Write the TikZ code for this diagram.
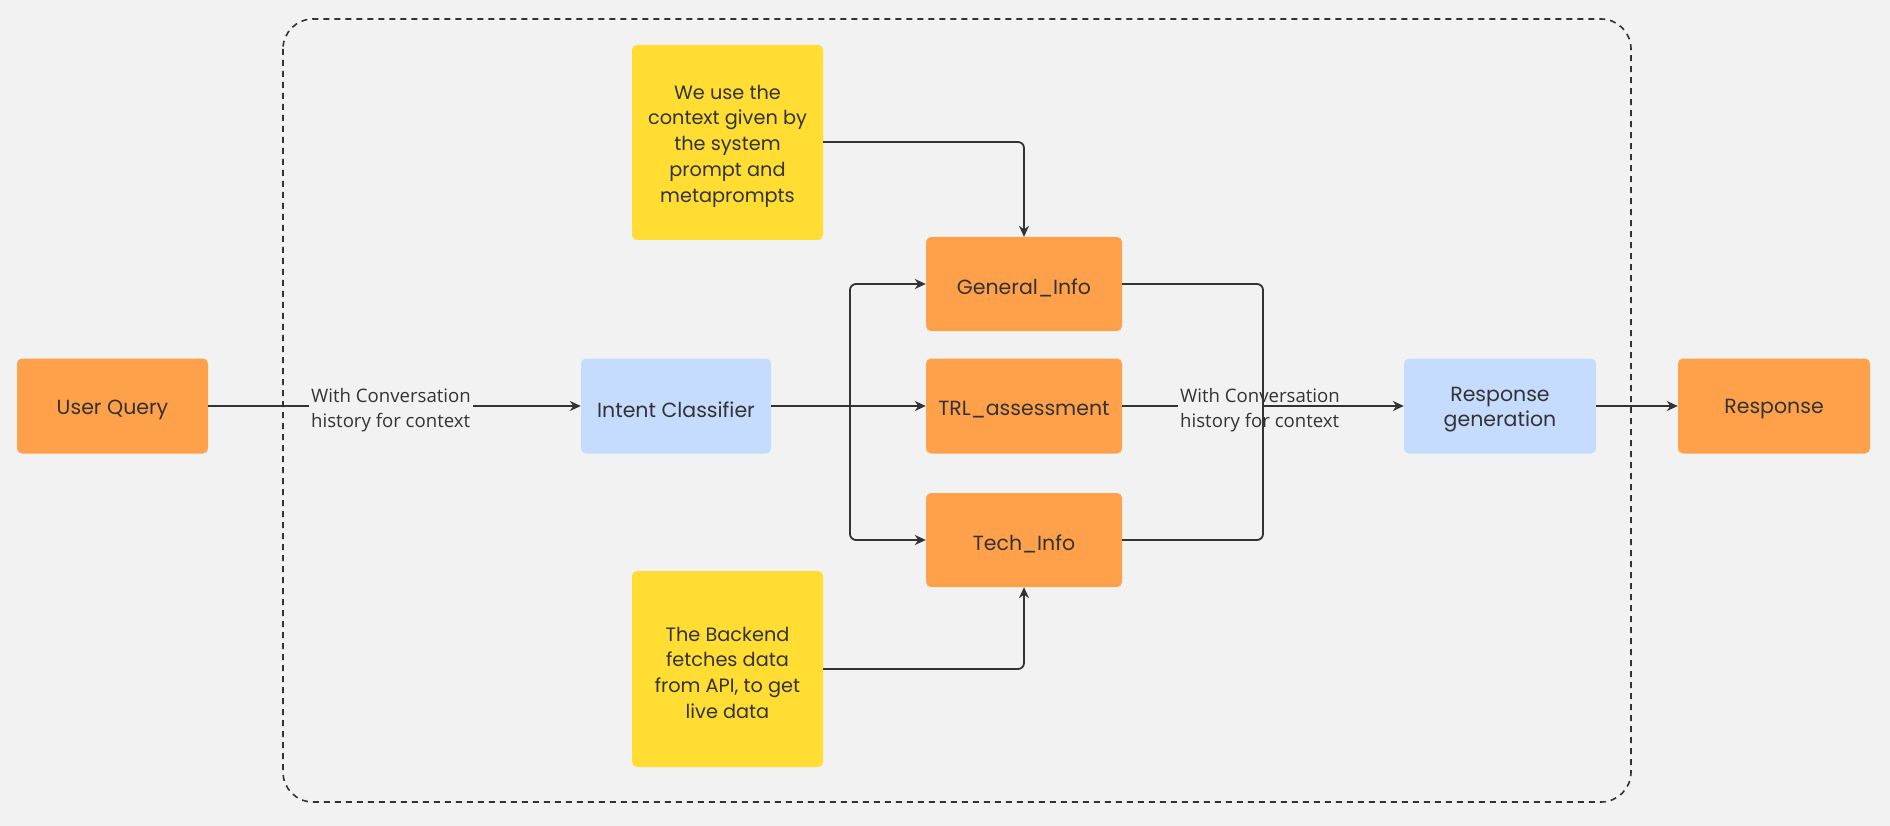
\documentclass[tikz,border=0pt]{standalone}
\usepackage{fontspec}
\usetikzlibrary{arrows.meta}
\newfontfamily\nodefont{Poppins}
\newfontfamily\labfont{Open Sans}
\definecolor{bgc}{HTML}{F2F2F2}
\definecolor{orangec}{HTML}{FFA04B}
\definecolor{yellowc}{HTML}{FFDD33}
\definecolor{bluec}{HTML}{C6DCFF}
\definecolor{txtc}{HTML}{333333}
\definecolor{linec}{HTML}{333333}
\tikzset{
  box/.style={rounded corners=5pt, inner sep=0pt},
  obox/.style={box, fill=orangec},
  bbox/.style={box, fill=bluec},
  ybox/.style={box, fill=yellowc},
  btxt/.style={inner sep=0pt, align=center, text=txtc,
    font=\nodefont\fontsize{20.5}{25.7}\selectfont},
  ytxt/.style={inner sep=0pt, align=center, text=txtc,
    font=\nodefont\fontsize{19.3}{25.7}\selectfont},
  lab/.style={inner sep=2pt, align=left, text=txtc,
    font=\labfont\fontsize{18.6}{25}\selectfont},
  conn/.style={draw=linec, line width=1.8pt},
  arr/.style={conn, -{Stealth[length=11pt,width=10pt]}},
  frame/.style={draw=linec, line width=1.6pt, dash pattern=on 6pt off 5pt, rounded corners=30pt}
}
\begin{document}
\begin{tikzpicture}[x=1pt,y=-1pt]
\useasboundingbox (0,0) rectangle (1890,826);
\fill[bgc] (0,0) rectangle (1890,826);
\draw[frame] (283,19) rectangle (1631,802);

\node[obox, minimum width=191pt, minimum height=95pt] (uq) at (112.5,406) {};
\node[bbox, minimum width=190pt, minimum height=95pt] (ic) at (676,406) {};
\node[obox, minimum width=196pt, minimum height=94pt] (gi) at (1024,284) {};
\node[obox, minimum width=196pt, minimum height=95pt] (trl) at (1024,406) {};
\node[obox, minimum width=196pt, minimum height=94pt] (ti) at (1024,540) {};
\node[bbox, minimum width=192pt, minimum height=95pt] (rg) at (1500,406) {};
\node[obox, minimum width=192pt, minimum height=95pt] (resp) at (1774,406) {};
\node[ybox, minimum width=191pt, minimum height=195pt] (y1) at (727.5,142.5) {};
\node[ybox, minimum width=191pt, minimum height=196pt] (y2) at (727.5,669) {};

\node[btxt] (uqt) at ([yshift=-3.5pt]uq.center) {User Query};
\node[btxt] (ict) at ([yshift=-3.5pt]ic.center) {Intent Classifier};
\node[btxt] (git) at ([yshift=-3.5pt]gi.center) {General\_Info};
\node[btxt] (trlt) at ([yshift=-3.5pt]trl.center) {TRL\_assessment};
\node[btxt] (tit) at ([yshift=-3.5pt]ti.center) {Tech\_Info};
\node[btxt] (rgt) at ([yshift=-3.5pt]rg.center) {Response\\generation};
\node[btxt] (respt) at ([yshift=-3.5pt]resp.center) {Response};
\node[ytxt] (y1t) at ([yshift=-3.5pt]y1.center) {We use the\\context given by\\the system\\prompt and\\metaprompts};
\node[ytxt] (y2t) at ([yshift=-3.5pt]y2.center) {The Backend\\fetches data\\from API, to get\\live data};

\node[lab] (l1) at (391,410) {With Conversation\\history for context};
\node[lab] (l2) at (1260,410) {With Conversation\\history for context};

\coordinate (split) at (850,406);
\coordinate (merge) at (1263,406);

\draw[conn] (uq.east) -- (l1.west |- uq.east);
\draw[arr] (l1.east |- ic.west) -- (ic.west);

\draw[conn] (ic.east) -- (split);
\draw[arr, rounded corners=6pt] (split) |- (gi.west);
\draw[arr, rounded corners=6pt] (split) |- (ti.west);
\draw[arr] (split) -- (trl.west);

\draw[arr, rounded corners=6pt] (y1.east |- 0,142) -| (gi.north);
\draw[arr, rounded corners=6pt] (y2.east |- 0,669) -| (ti.south);

\draw[conn] (trl.east) -- (l2.west |- trl.east);
\draw[conn, rounded corners=6pt] (gi.east) -| (merge);
\draw[conn, rounded corners=6pt] (ti.east) -| (merge);
\draw[arr] (merge) -- (rg.west);
\draw[arr] (rg.east) -- (resp.west);
\end{tikzpicture}
\end{document}
